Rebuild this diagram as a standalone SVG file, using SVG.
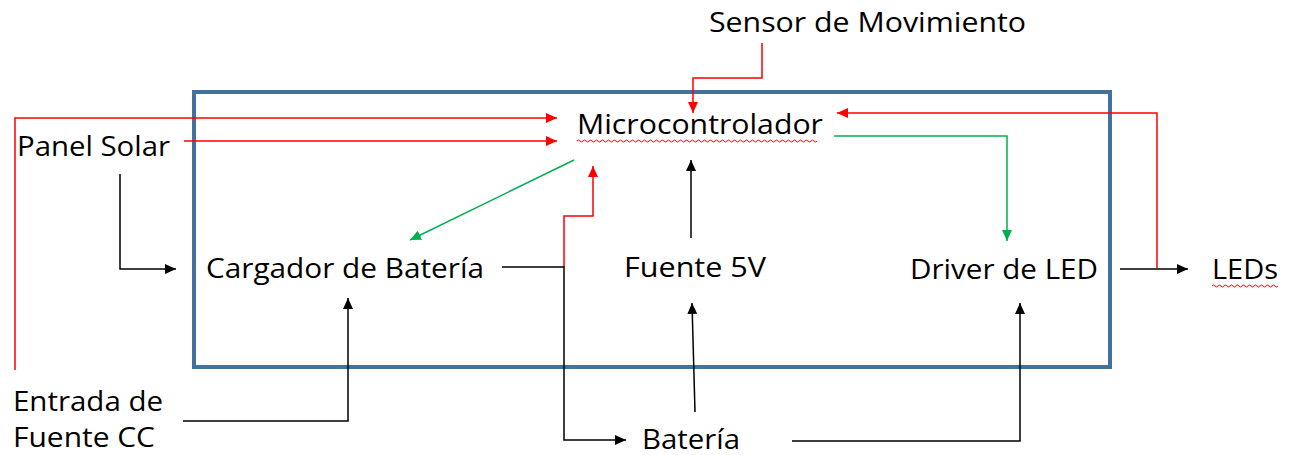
<svg xmlns="http://www.w3.org/2000/svg" width="1290" height="455" viewBox="0 0 1290 455">
<style>
text{font-family:"Open Sans","Liberation Sans",sans-serif;font-size:28px;fill:#000}
.c{fill:none;stroke-width:1.5}
.r{stroke:#ff0000}
.g{stroke:#00b050}
.k{stroke:#000}
.wave{fill:none;stroke:#ff0000;stroke-width:1}
</style>
<defs>
<marker id="ar" markerUnits="userSpaceOnUse" markerWidth="12" markerHeight="10" refX="11" refY="5" orient="auto"><path d="M0,0 L11,5 L0,10 Z" fill="#ff0000"/></marker>
<marker id="ag" markerUnits="userSpaceOnUse" markerWidth="12" markerHeight="10" refX="11" refY="5" orient="auto"><path d="M0,0 L11,5 L0,10 Z" fill="#00b050"/></marker>
<marker id="ak" markerUnits="userSpaceOnUse" markerWidth="12" markerHeight="10" refX="11" refY="5" orient="auto"><path d="M0,0 L11,5 L0,10 Z" fill="#000"/></marker>
</defs>
<rect id="system" x="194" y="92" width="916" height="275" fill="none" stroke="#41719c" stroke-width="4"/>
<g id="connectors">
<path class="c r" d="M15,370 V118 H557" marker-end="url(#ar)"/>
<path class="c r" d="M184,141 H557" marker-end="url(#ar)"/>
<path class="c r" d="M762,43 V78 H693 V113" marker-end="url(#ar)"/>
<path class="c r" d="M1157,268 V113 H837" marker-end="url(#ar)"/>
<path class="c r" d="M564,267 V216 H593 V166" marker-end="url(#ar)"/>
<path class="c g" d="M834,136 H1007 V241" marker-end="url(#ag)"/>
<path class="c g" d="M574,160 L410,240" marker-end="url(#ag)"/>
<path class="c k" d="M502,267 H564 V440 H626" marker-end="url(#ak)"/>
<path class="c k" d="M691,238 V160" marker-end="url(#ak)"/>
<path class="c k" d="M695,412 L692,303" marker-end="url(#ak)"/>
<path class="c k" d="M792,441 H1020 V303" marker-end="url(#ak)"/>
<path class="c k" d="M1120,269 H1188" marker-end="url(#ak)"/>
<path class="c k" d="M120,174 V269 H176" marker-end="url(#ak)"/>
<path class="c k" d="M183,421 H348 V298" marker-end="url(#ak)"/>
</g>
<g id="sensor"><text x="709" y="32" textLength="317" lengthAdjust="spacingAndGlyphs">Sensor de Movimiento</text></g>
<g id="micro"><text x="577" y="134" textLength="246" lengthAdjust="spacingAndGlyphs">Microcontrolador</text>
<path class="wave" d="M577,141 q1.5,-2 3,0 t3,0 t3,0 t3,0 t3,0 t3,0 t3,0 t3,0 t3,0 t3,0 t3,0 t3,0 t3,0 t3,0 t3,0 t3,0 t3,0 t3,0 t3,0 t3,0 t3,0 t3,0 t3,0 t3,0 t3,0 t3,0 t3,0 t3,0 t3,0 t3,0 t3,0 t3,0 t3,0 t3,0 t3,0 t3,0 t3,0 t3,0 t3,0 t3,0 t3,0 t3,0 t3,0 t3,0 t3,0 t3,0 t3,0 t3,0 t3,0 t3,0 t3,0 t3,0 t3,0 t3,0 t3,0 t3,0 t3,0 t3,0 t3,0 t3,0 t3,0 t3,0 t3,0 t3,0 t3,0 t3,0 t3,0 t3,0 t3,0 t3,0 t3,0 t3,0 t3,0 t3,0 t3,0 t3,0 t3,0 t3,0 t3,0 t3,0"/></g>
<g id="panel"><text x="17" y="156" textLength="153" lengthAdjust="spacingAndGlyphs">Panel Solar</text></g>
<g id="cargador"><text x="206" y="278" textLength="278" lengthAdjust="spacingAndGlyphs">Cargador de Batería</text></g>
<g id="fuente5v"><text x="624" y="277" textLength="142" lengthAdjust="spacingAndGlyphs">Fuente 5V</text></g>
<g id="driver"><text x="910" y="279" textLength="188" lengthAdjust="spacingAndGlyphs">Driver de LED</text></g>
<g id="leds"><text x="1212" y="279" textLength="66" lengthAdjust="spacingAndGlyphs">LEDs</text>
<path class="wave" d="M1212,286 q1.5,-2 3,0 t3,0 t3,0 t3,0 t3,0 t3,0 t3,0 t3,0 t3,0 t3,0 t3,0 t3,0 t3,0 t3,0 t3,0 t3,0 t3,0 t3,0 t3,0 t3,0 t3,0 t3,0"/></g>
<g id="entrada"><text x="13" y="411" textLength="150" lengthAdjust="spacingAndGlyphs">Entrada de</text><text x="13" y="447" textLength="142" lengthAdjust="spacingAndGlyphs">Fuente CC</text></g>
<g id="bateria"><text x="642" y="449" textLength="98" lengthAdjust="spacingAndGlyphs">Batería</text></g>
</svg>
